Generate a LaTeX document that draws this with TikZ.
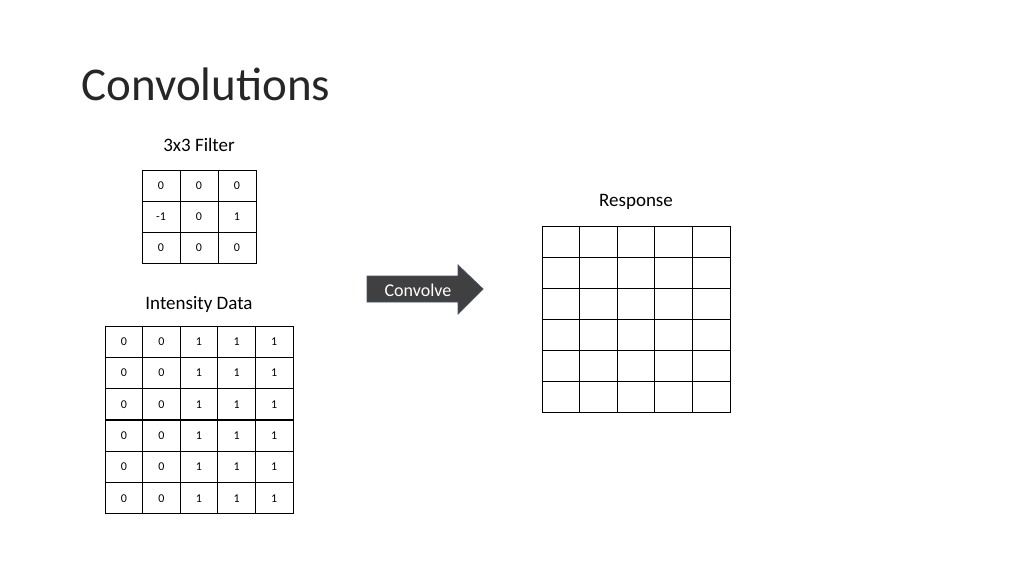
\documentclass[tikz,border=0pt]{standalone}
\usepackage{fontspec}
\setmainfont{Carlito}
\definecolor{arrowfill}{RGB}{64,64,64}
\definecolor{arrowline}{RGB}{68,84,106}
\begin{document}
\begin{tikzpicture}[x=1pt,y=-1pt]
\tikzset{cell/.style={draw,line width=0.8pt,minimum width=37.6pt,minimum height=31.2pt,inner sep=0pt,font=\fontsize{12}{12}\selectfont},
         caption/.style={font=\fontsize{19}{19}\selectfont}}
\useasboundingbox (0,0) rectangle (1024,576);
\node[anchor=base west,font=\fontsize{47}{47}\selectfont,text=black!85] (title) at (78,100) {Convolutions};
% filter
\node[caption] (flabel) at (199,145) {3x3 Filter};
\foreach \row/\vals [count=\r] in {1/{0,0,0},2/{-1,0,1},3/{0,0,0}}
  \foreach \v [count=\c] in \vals
    \node[cell,minimum width=38pt,minimum height=31pt] (f-\r-\c) at (142+38*\c-19,170+31*\r-15.5) {\v};
% intensity data
\node[caption] (dlabel) at (199,304) {Intensity Data};
\foreach \r in {1,...,6}
  \foreach \v [count=\c] in {0,0,1,1,1}
    \node[cell] (d-\r-\c) at (105+37.6*\c-18.8,326+31.3*\r-15.65) {\v};
% response
\node[caption] (rlabel) at (636,202) {Response};
\foreach \r in {1,...,6}
  \foreach \c in {1,...,5}
    \node[cell,minimum height=31pt] (r-\r-\c) at (542+37.6*\c-18.8,226+31*\r-15.5) {};
% arrow
\draw[arrowline,fill=arrowfill,line width=0.8pt]
  (367,276) -- (458,276) -- (458,265) -- (483,289) -- (458,314) -- (458,302) -- (367,302) -- cycle;
\node[text=white,font=\fontsize{18}{18}\selectfont] (conv) at (418,290) {Convolve};
\end{tikzpicture}
\end{document}
